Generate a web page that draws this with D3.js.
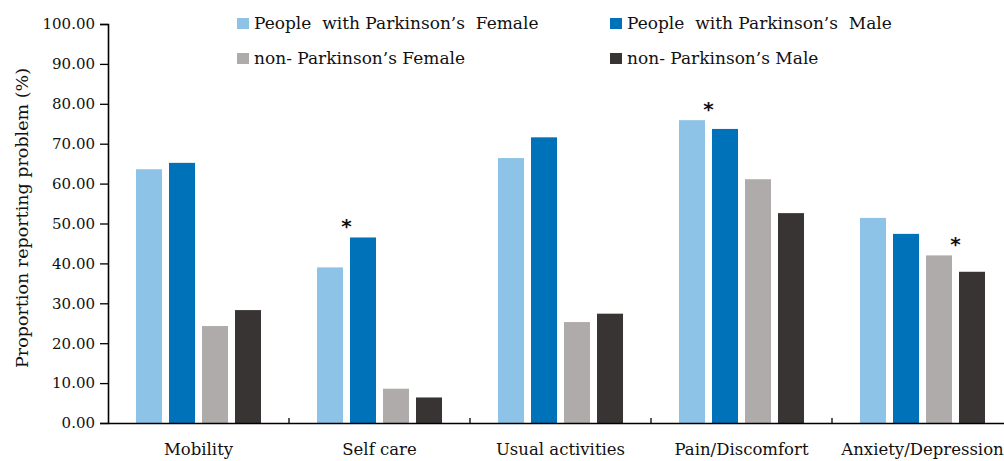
<!DOCTYPE html>
<html><head><meta charset="utf-8">
<script src="https://cdn.jsdelivr.net/npm/d3@7"></script>
<style>body{margin:0;background:#fff}svg{display:block}</style>
</head><body>
<svg id="c" width="1004" height="461"></svg>
<script>
const categories = ["Mobility", "Self care", "Usual activities", "Pain/Discomfort", "Anxiety/Depression"];
const seriesNames = ["People  with Parkinson\u2019s  Female", "People  with Parkinson\u2019s  Male", "non- Parkinson\u2019s Female", "non- Parkinson\u2019s Male"];
const pdFemale = [63.6, 39.0, 66.4, 75.9, 51.4];
const pdMale = [65.2, 46.5, 71.6, 73.7, 47.4];
const nonFemale = [24.3, 8.6, 25.3, 61.1, 42.0];
const nonMale = [28.3, 6.4, 27.4, 52.6, 37.9];
const yTicks = [0, 10, 20, 30, 40, 50, 60, 70, 80, 90, 100];
const colors = ["#8DC3E6", "#0072BA", "#AFABAA", "#383433"];
// significance markers: category, between series a and b
const stars = [{cat: "Self care", a: 0, b: 1}, {cat: "Pain/Discomfort", a: 0, b: 1}, {cat: "Anxiety/Depression", a: 2, b: 3}];

const allSeries = [pdFemale, pdMale, nonFemale, nonMale];
const svg = d3.select("#c");
const font = "'DejaVu Serif', serif";

const x0 = d3.scaleBand().domain(categories).range([108, 1013]);
const x1 = d3.scaleBand().domain(d3.range(4)).range([0, x0.bandwidth()]).paddingInner(0.212).paddingOuter(0.848);
const y = d3.scaleLinear().domain([0, 100]).range([423, 24]);

// bars
const g = svg.append("g");
categories.forEach((c, ci) => {
  allSeries.forEach((s, si) => {
    g.append("rect")
      .attr("x", x0(c) + x1(si))
      .attr("y", y(s[ci]))
      .attr("width", x1.bandwidth())
      .attr("height", y(0) - y(s[ci]))
      .attr("fill", colors[si]);
  });
});

// y axis
const yAxis = svg.append("g").attr("transform", "translate(108,0)")
  .call(d3.axisLeft(y).tickValues(yTicks).tickFormat(d3.format(".2f")).tickSizeOuter(0).tickSize(8).tickPadding(5));
yAxis.select(".domain").attr("stroke", "#000").attr("stroke-width", 1.6);
yAxis.selectAll(".tick line").attr("stroke", "#000").attr("stroke-width", 1.3);
yAxis.selectAll("text").attr("font-family", font).attr("font-size", 15).attr("fill", "#111");

// x axis
const xAxis = svg.append("g").attr("transform", "translate(0,423)")
  .call(d3.axisBottom(x0).tickSize(0).tickPadding(20));
xAxis.select(".domain").attr("stroke", "#000").attr("stroke-width", 1.6);
xAxis.selectAll("text").attr("font-family", font).attr("font-size", 16.5).attr("fill", "#111");
// boundary ticks (inward)
const bounds = categories.map(c => x0(c)).concat([x0.range()[1]]);
xAxis.selectAll(".bt").data(bounds.slice(1)).enter().append("line")
  .attr("x1", d => d).attr("x2", d => d).attr("y1", 0).attr("y2", -5)
  .attr("stroke", "#000").attr("stroke-width", 1.3);

// y title
svg.append("text")
  .attr("transform", "translate(22,218) rotate(-90)")
  .attr("text-anchor", "middle")
  .attr("dominant-baseline", "central")
  .attr("font-family", font).attr("font-size", 17.5).attr("fill", "#111")
  .text("Proportion reporting problem (%)");

// stars
stars.forEach(st => {
  const ci = categories.indexOf(st.cat);
  const xa = x0(st.cat) + x1(st.a) + x1.bandwidth();
  const xb = x0(st.cat) + x1(st.b);
  const top = Math.max(allSeries[st.a][ci], allSeries[st.b][ci]);
  svg.append("text")
    .attr("x", (xa + xb) / 2).attr("y", y(top) - 4)
    .attr("text-anchor", "middle")
    .attr("font-family", "'DejaVu Sans', sans-serif").attr("font-size", 20).attr("font-weight", "bold").attr("fill", "#111")
    .text("*");
});

// legend
const legendPos = [[237, 18], [610, 18], [237, 53], [610, 53]];
seriesNames.forEach((n, i) => {
  const [lx, ly] = legendPos[i];
  svg.append("rect").attr("x", lx).attr("y", ly).attr("width", 12).attr("height", 11).attr("fill", colors[i]);
  svg.append("text").attr("x", lx + 17).attr("y", ly + 11)
    .attr("font-family", font).attr("font-size", 17).attr("fill", "#111")
    .style("white-space", "pre")
    .text(n);
});
</script>
</body></html>
